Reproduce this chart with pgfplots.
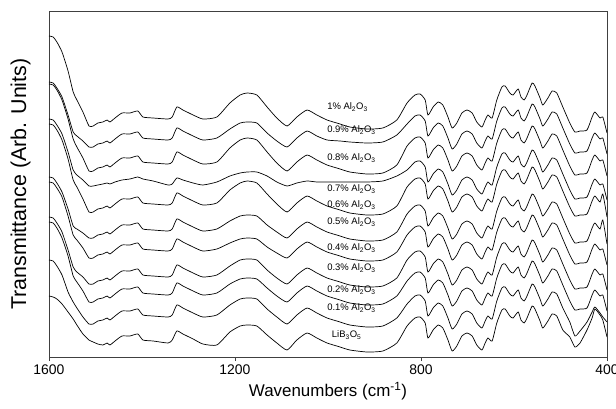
\documentclass[border=0pt]{standalone}
\usepackage{fontspec}
\setmainfont{Liberation Sans}
\usepackage{pgfplots}
\pgfplotsset{compat=1.18}
\usepackage{pgfplotstable}

% x: wavenumber (cm^-1); c1..c11: trace positions (stacked, arbitrary units, top = 1% Al2O3 ... bottom = LiB3O5)
\pgfplotstableread{
x c1 c2 c3 c4 c5 c6 c7 c8 c9 c10 c11
1600 36 82 84 119 124 177 182 217 222 260 296
1591 37 83 85 120 125 178 183 218 223 261 297
1583 42 88 90 125 130 183 188 223 228 266 299
1572 52 97 100 134 140 192 197 232 238 275 304
1559 71 115 119 152 159 209 216 250 256 292 312
1548 92 132 139 170 180 226 235 267 276 302 319
1540 100 136 147 175 187 229 240 272 282 308 325
1527 112 141 158 180 199 233 248 277 291 317 334
1514 126 147 171 186 212 238 258 284 302 324 340
1505 126 147 171 186 212 238 258 284 302 324 342
1495 123 144 168 185 209 235 255 281 299 321 344
1484 122 143 167 184 208 234 254 280 298 320 345
1475 120 141 165 183 206 232 252 278 296 318 343
1469 122 143 167 184 208 234 254 280 298 320 345
1458 118 139 163 182 204 230 250 276 294 316 341
1443 113 134 158 180 199 225 245 271 289 311 336
1426 113 134 158 179 199 225 245 271 289 311 336
1409 111 132 156 177 197 223 243 269 287 309 334
1398 117 138 162 179 203 229 249 275 293 315 340
1376 118 139 163 181 204 230 250 276 294 316 341
1344 119 140 164 185 205 231 251 277 295 317 343
1335 117 138 162 184 203 229 249 275 293 315 340
1325 107 128 152 178 193 219 239 265 283 305 331
1312 110 131 155 180 196 222 242 268 286 308 334
1290 115 136 160 183 201 227 247 273 291 313 339
1269 119 140 164 185 205 231 251 277 295 317 344
1239 117 138 162 182 203 229 249 275 293 315 345
1211 103 129 148 176 190 221 243 266 284 305 332
1189 95 123 140 173 183 216 239 260 279 299 326
1174 93 122 138 172 181 215 238 259 278 298 325
1153 95 123 140 172 183 216 239 260 279 299 326
1131 107 133 152 176 194 225 247 270 288 309 335
1110 118 141 163 182 204 232 253 278 296 317 343
1088 126 147 171 186 212 238 258 284 302 324 350
1067 117 138 162 183 203 229 249 275 293 315 340
1045 110 131 155 181 196 222 242 268 286 308 333
1024 115 136 160 182 201 227 247 273 291 313 338
1002 120 140 165 182 206 232 252 278 296 318 343
974 124 141 169 182 210 236 256 282 300 322 347
953 127 142 172 182 213 239 259 285 303 325 350
916 129 143 174 182 215 241 261 287 305 327 352
882 128 142 173 181 214 240 260 286 304 326 351
852 120 135 165 176 206 232 252 278 296 318 343
830 103 124 146 170 187 214 235 260 281 304 326
813 95 116 138 162 179 206 227 252 273 296 318
802 94 115 137 161 178 205 226 251 272 295 317
791 100 121 143 167 184 211 232 257 278 301 323
785 115 136 158 182 199 226 247 272 293 316 338
774 107 128 150 174 191 218 239 264 285 308 330
763 102 123 145 169 186 213 234 259 280 303 325
753 105 126 148 172 189 216 237 262 283 306 328
742 117 138 160 184 201 228 249 274 295 318 340
733 128 149 171 195 212 239 260 285 306 329 351
723 123 144 166 190 207 234 255 280 301 324 346
712 113 134 156 180 197 224 245 270 291 314 336
701 110 131 153 177 194 221 242 267 288 311 333
690 113 134 156 180 197 224 245 270 291 314 336
680 122 143 165 189 206 233 254 279 300 323 345
669 127 148 170 194 211 238 259 284 305 328 350
662 120 141 163 187 204 231 252 277 298 321 343
656 115 136 158 182 199 226 247 272 293 316 338
647 118 139 161 185 202 229 250 275 296 319 341
637 100 121 143 167 184 211 232 257 278 301 323
626 87 108 130 154 171 198 219 244 265 288 310
619 86 107 129 153 170 197 218 243 264 287 309
609 93 114 136 160 177 204 225 250 271 294 316
602 95 116 138 162 179 206 227 252 273 296 318
591 89 110 132 156 173 200 221 246 267 290 312
585 97 118 140 164 181 208 229 254 275 298 320
578 100 121 143 167 184 211 232 257 278 301 323
572 95 116 138 162 179 206 227 252 273 296 318
561 83 104 126 150 167 194 215 240 261 284 306
555 86 107 129 153 170 197 218 243 264 287 309
544 98 119 141 165 182 209 230 255 276 299 321
538 105 126 148 172 189 216 237 262 283 306 328
527 98 119 141 165 182 209 230 255 276 299 321
518 91 112 134 158 175 202 223 248 269 292 314
508 93 114 136 160 177 204 225 250 271 294 316
495 107 128 150 174 191 218 239 264 285 308 330
480 123 144 166 190 207 234 255 280 301 322 337
469 132 153 175 199 216 243 264 289 310 336 347
458 131 152 174 198 215 242 263 288 309 331 343
443 130 151 173 197 214 241 262 287 308 322 330
432 117 138 160 184 201 228 249 274 295 312 318
426 112 133 155 179 196 223 244 269 290 307 309
415 118 139 161 185 202 229 250 275 296 313 315
409 117 138 160 184 194 220 249 274 295 317 320
400 133 154 176 200 217 244 265 290 311 322 337
}\spectra

\begin{document}
\begin{tikzpicture}
\begin{axis}[
  name=ax,
  width=558bp, height=346bp, scale only axis,
  x dir=reverse, xmin=400, xmax=1600,
  y dir=reverse, ymin=11, ymax=357,
  xtick={400,800,1200,1600},
  ytick=\empty,
  tick align=outside,
  major tick length=4bp,
  xtick pos=bottom,
  axis line style={black!75, line width=0.8bp},
  tick style={black!75, line width=0.8bp},
  /pgf/number format/assume math mode=true,
  /pgf/number format/1000 sep={},
  tick label style={font=\fontsize{14}{16}\selectfont},
  xlabel={Wavenumbers (cm\textsuperscript{-1})},
  ylabel={Transmittance (Arb. Units)},
  xlabel style={font=\fontsize{17}{19}\selectfont, yshift=-1bp},
  ylabel style={font=\fontsize{21.5}{23}\selectfont, yshift=11bp},
  cycle list={{black, solid}},
  every axis plot post/.append style={black, solid, line width=0.7bp, smooth, tension=0.35, mark=none},
]
\addplot table[x=x, y=c1] {\spectra};
\addplot table[x=x, y=c2] {\spectra};
\addplot table[x=x, y=c3] {\spectra};
\addplot table[x=x, y=c4] {\spectra};
\addplot table[x=x, y=c5] {\spectra};
\addplot table[x=x, y=c6] {\spectra};
\addplot table[x=x, y=c7] {\spectra};
\addplot table[x=x, y=c8] {\spectra};
\addplot table[x=x, y=c9] {\spectra};
\addplot table[x=x, y=c10] {\spectra};
\addplot table[x=x, y=c11] {\spectra};

\begin{scope}[every node/.style={anchor=west, font=\fontsize{9.5}{10}\selectfont, inner sep=0pt}]
\node at (axis cs:1002,107) {1\% Al\textsubscript{2}O\textsubscript{3}};
\node at (axis cs:1002,130) {0.9\% Al\textsubscript{2}O\textsubscript{3}};
\node at (axis cs:1002,158) {0.8\% Al\textsubscript{2}O\textsubscript{3}};
\node at (axis cs:1002,189) {0.7\% Al\textsubscript{2}O\textsubscript{3}};
\node at (axis cs:1002,205) {0.6\% Al\textsubscript{2}O\textsubscript{3}};
\node at (axis cs:1002,222) {0.5\% Al\textsubscript{2}O\textsubscript{3}};
\node at (axis cs:1002,248) {0.4\% Al\textsubscript{2}O\textsubscript{3}};
\node at (axis cs:1002,268) {0.3\% Al\textsubscript{2}O\textsubscript{3}};
\node at (axis cs:1002,290) {0.2\% Al\textsubscript{2}O\textsubscript{3}};
\node at (axis cs:1002,308) {0.1\% Al\textsubscript{2}O\textsubscript{3}};
\node at (axis cs:992,335) {LiB\textsubscript{3}O\textsubscript{5}};
\end{scope}
\end{axis}
\pgfresetboundingbox
\path ([shift={(-49bp,-52bp)}]ax.south west) rectangle ([shift={(9bp,11bp)}]ax.north east);
\end{tikzpicture}
\end{document}
